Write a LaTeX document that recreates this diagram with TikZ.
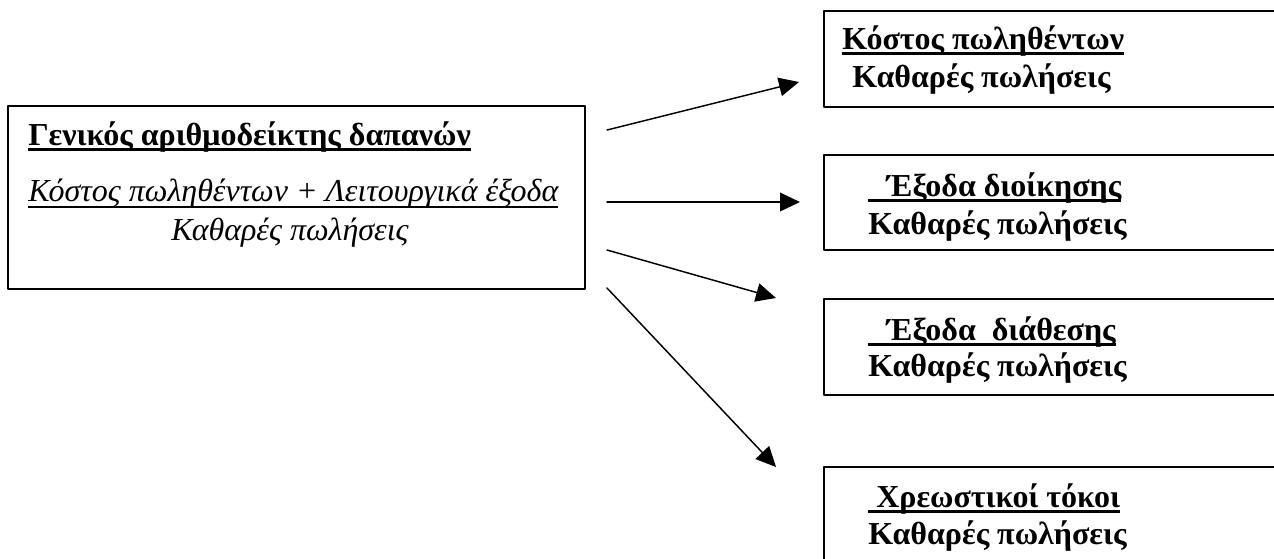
\documentclass[tikz,border=0pt]{standalone}
\usepackage{fontspec}
\setmainfont{Liberation Serif}
\usetikzlibrary{arrows.meta}
\newsavebox{\ulnbox}
\newcommand{\uln}[3][2.2pt]{\sbox{\ulnbox}{#3}\rlap{\rule[-#2]{\wd\ulnbox}{#1}}\usebox{\ulnbox}}
\tikzset{
  box/.style={draw,line width=1.3pt,anchor=north west,inner sep=0pt},
  txt/.style={anchor=base west,inner sep=0pt},
  bt/.style={txt,font=\bfseries},
  it/.style={txt,font=\itshape},
}

\begin{document}
\fontsize{24}{29}\selectfont
\begin{tikzpicture}[line cap=round,line join=round,>={Triangle[length=15pt,width=14pt]},x=0.75pt,y=-0.75pt]
\useasboundingbox (0,0) rectangle (1274,558);
% boxes
\node[box,minimum width=432.75pt,minimum height=137.25pt] (gen) at (7,105) {};
\node[box,minimum width=352pt,minimum height=72pt] (cost) at (823,10) {};
\node[box,minimum width=352pt,minimum height=71.25pt] (admin) at (823,154) {};
\node[box,minimum width=352pt,minimum height=72pt] (dist) at (823,298) {};
\node[box,minimum width=352pt,minimum height=80pt] (inter) at (823,466) {};
% left box text
\node[bt] (gentitle) at (28,145) {\uln{4.2pt}{Γενικός αριθμοδείκτης δαπανών}};
\node[it] (genfrac) at (28,201) {\uln[1.3pt]{5pt}{Κόστος πωληθέντων + Λειτουργικά έξοδα}};
\node[it,anchor=base] (gensales) at (290,240) {Καθαρές πωλήσεις};
% right boxes text
\node[bt] (costtop) at (842,49) {\uln{4.2pt}{Κόστος πωληθέντων}};
\node[bt] (costbot) at (852,87) {Καθαρές πωλήσεις};
\node[bt] (admintop) at (868,196) {\uln{4.2pt}{\hspace*{14pt}Έξοδα διοίκησης}};
\node[bt] (adminbot) at (868,234) {Καθαρές πωλήσεις};
\node[bt] (disttop) at (868,340) {\uln{4.2pt}{\hspace*{14pt}Έξοδα\ \ διάθεσης}};
\node[bt] (distbot) at (868,376) {Καθαρές πωλήσεις};
\node[bt] (intertop) at (868,507) {\uln{4.2pt}{\hspace*{6pt}Χρεωστικοί τόκοι}};
\node[bt] (interbot) at (868,544) {Καθαρές πωλήσεις};
% arrows
\coordinate (a1) at (607,130);
\coordinate (a2) at (607,202);
\coordinate (a3) at (607,250);
\coordinate (a4) at (607,288);
\coordinate (b1) at (799,82);
\coordinate (b2) at (800,202);
\coordinate (b3) at (776,298);
\coordinate (b4) at (776,467);
\foreach \i in {1,2,3,4}
\draw[->,line width=1.1pt] (a\i) -- (b\i);
\end{tikzpicture}
\end{document}
